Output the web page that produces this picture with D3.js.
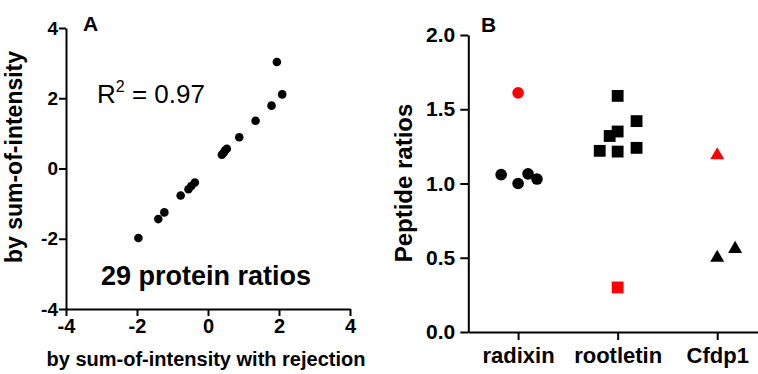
<!DOCTYPE html>
<html>
<head>
<meta charset="utf-8">
<script src="https://cdn.jsdelivr.net/npm/d3@7"></script>
<style>
  body { margin: 0; background: #fff; }
  svg { display: block; font-family: Arial, "Liberation Sans", sans-serif; }
  .axis path, .axis line { stroke: #000; stroke-width: 2px; }
  .axis text { font-weight: bold; fill: #000; }
</style>
</head>
<body>
<svg id="chart" width="758" height="374"></svg>
<script>
// panel A: protein ratios (log2), x = with rejection, y = sum-of-intensity
var ratioX = [-1.96, -1.40, -1.23, -0.77, -0.55, -0.47, -0.37, 0.39, 0.44, 0.48, 0.53, 0.88, 1.34, 1.79, 1.94, 2.09];
var ratioY = [-1.98, -1.44, -1.25, -0.77, -0.59, -0.50, -0.40, 0.39, 0.45, 0.51, 0.56, 0.89, 1.36, 1.79, 3.03, 2.11];
var ticksA = [-4, -2, 0, 2, 4];

// panel B: peptide ratios per protein
var proteins = ["radixin", "rootletin", "Cfdp1"];
var radixinVals = [1.06, 1.00, 1.065, 1.03, 1.61];
var radixinJitter = [-0.17, 0, 0.1, 0.19, 0];
var radixinOutlier = [false, false, false, false, true];
var rootletinVals = [1.59, 1.42, 1.32, 1.35, 1.22, 1.215, 1.24, 0.30];
var rootletinJitter = [0, 0.19, -0.08, 0, -0.18, 0, 0.19, 0];
var rootletinOutlier = [false, false, false, false, false, false, false, true];
var cfdp1Vals = [1.19, 0.50, 0.56];
var cfdp1Jitter = [0, 0, 0.18];
var cfdp1Outlier = [true, false, false];
var ticksB = [0, 0.5, 1.0, 1.5, 2.0];

var svg = d3.select("#chart");
var plainMinus = function(d) { return String(d); };

// ---- panel A ----
var xA = d3.scaleLinear().domain([-4, 4]).range([66, 350]);
var yA = d3.scaleLinear().domain([-4, 4]).range([309, 28]);

svg.append("g")
    .attr("class", "axis")
    .attr("transform", "translate(0,309)")
    .call(d3.axisBottom(xA).tickValues(ticksA).tickFormat(plainMinus).tickSize(7).tickSizeOuter(0).tickPadding(3))
    .selectAll("text").style("font-size", "20px");

svg.append("g")
    .attr("class", "axis")
    .attr("transform", "translate(66,0)")
    .call(d3.axisLeft(yA).tickValues(ticksA).tickFormat(plainMinus).tickSize(7).tickSizeOuter(0).tickPadding(1))
    .selectAll("text").style("font-size", "19px");

svg.append("g").selectAll("circle")
    .data(ratioX)
    .join("circle")
    .attr("cx", function(d) { return xA(d); })
    .attr("cy", function(d, i) { return yA(ratioY[i]); })
    .attr("r", 4.3)
    .attr("fill", "#000");

svg.append("text")
    .attr("x", 206).attr("y", 366)
    .attr("text-anchor", "middle")
    .style("font-size", "20px").style("font-weight", "bold")
    .text("by sum-of-intensity with rejection");

svg.append("text")
    .attr("transform", "translate(22,157) rotate(-90)")
    .attr("text-anchor", "middle")
    .style("font-size", "23px").style("font-weight", "bold")
    .text("by sum-of-intensity");

svg.append("text")
    .attr("x", 83).attr("y", 31)
    .style("font-size", "21px").style("font-weight", "bold")
    .text("A");

var r2 = svg.append("text")
    .attr("x", 97).attr("y", 103)
    .style("font-size", "26px");
r2.append("tspan").text("R");
r2.append("tspan").attr("dy", -11).style("font-size", "16px").text("2");
r2.append("tspan").attr("dy", 11).text(" = 0.97");

svg.append("text")
    .attr("x", 101).attr("y", 285)
    .style("font-size", "27px").style("font-weight", "bold")
    .text("29 protein ratios");

// ---- panel B ----
var xB = d3.scalePoint().domain(proteins).range([468.3, 767]).padding(0.5);
var step = xB.step();
var yB = d3.scaleLinear().domain([0, 2]).range([332, 35]);

svg.append("g")
    .attr("class", "axis")
    .attr("transform", "translate(0,332)")
    .call(d3.axisBottom(xB).tickSize(8).tickSizeOuter(0).tickPadding(7))
    .selectAll("text").style("font-size", "22px");

svg.append("g")
    .attr("class", "axis")
    .attr("transform", "translate(468.3,0)")
    .call(d3.axisLeft(yB).tickValues(ticksB).tickFormat(d3.format(".1f")).tickSize(8).tickSizeOuter(0).tickPadding(5))
    .selectAll("text").style("font-size", "21px");

function points(name, vals, jitter, outlier) {
  return vals.map(function(v, i) {
    return { x: xB(name) + jitter[i] * step, y: yB(v), red: outlier[i] };
  });
}
var colour = function(d) { return d.red ? "#ff0000" : "#000"; };

svg.append("g").selectAll("circle")
    .data(points("radixin", radixinVals, radixinJitter, radixinOutlier))
    .join("circle")
    .attr("cx", function(d) { return d.x; })
    .attr("cy", function(d) { return d.y; })
    .attr("r", 5.8)
    .attr("fill", colour);

var sq = d3.symbol().type(d3.symbolSquare).size(140);
svg.append("g").selectAll("path")
    .data(points("rootletin", rootletinVals, rootletinJitter, rootletinOutlier))
    .join("path")
    .attr("transform", function(d) { return "translate(" + d.x + "," + d.y + ")"; })
    .attr("d", sq)
    .attr("fill", colour);

var tri = d3.symbol().type(d3.symbolTriangle).size(85);
svg.append("g").selectAll("path")
    .data(points("Cfdp1", cfdp1Vals, cfdp1Jitter, cfdp1Outlier))
    .join("path")
    .attr("transform", function(d) { return "translate(" + d.x + "," + d.y + ")"; })
    .attr("d", tri)
    .attr("fill", colour);

svg.append("text")
    .attr("transform", "translate(412,183) rotate(-90)")
    .attr("text-anchor", "middle")
    .style("font-size", "24px").style("font-weight", "bold")
    .text("Peptide ratios");

svg.append("text")
    .attr("x", 481).attr("y", 32)
    .style("font-size", "21px").style("font-weight", "bold")
    .text("B");
</script>
</body>
</html>
